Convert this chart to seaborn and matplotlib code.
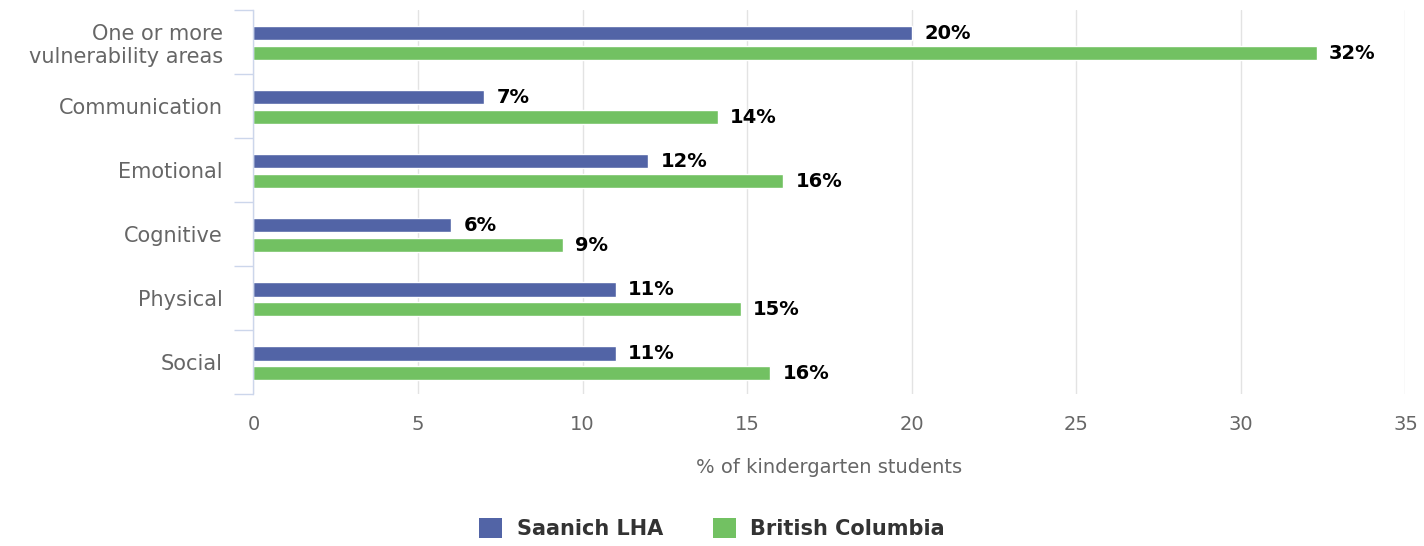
import matplotlib
matplotlib.use("Agg")
import matplotlib.pyplot as plt
import pandas as pd
import seaborn as sns
from matplotlib.patches import Patch

# --- data ---
categories = ["One or more\nvulnerability areas", "Communication", "Emotional",
              "Cognitive", "Physical", "Social"]
saanich = [20.0, 7.0, 12.0, 6.0, 11.0, 11.0]
bc = [32.3, 14.1, 16.1, 9.4, 14.8, 15.7]
series = ["Saanich LHA", "British Columbia"]
colors = ["#5264a6", "#72c162"]
x_ticks = [0, 5, 10, 15, 20, 25, 30, 35]

df = pd.DataFrame({
    "category": categories * 2,
    "value": saanich + bc,
    "region": [series[0]] * len(categories) + [series[1]] * len(categories),
})

sns.set_theme(style="white")
plt.rcParams["font.family"] = ["DejaVu Sans"]

fig, ax = plt.subplots(figsize=(14.24, 5.46), dpi=100)
fig.subplots_adjust(left=0.178, right=0.987, top=0.982, bottom=0.278)

sns.barplot(data=df, y="category", x="value", hue="region", order=categories,
            hue_order=series, palette=colors, orient="h", width=0.62,
            saturation=1, legend=False, ax=ax)

# thinner bars with a small gap between the pair
for p in ax.patches:
    cy = p.get_y() + p.get_height() / 2 + 0.02
    p.set_height(0.22)
    p.set_y(cy - 0.11)

for cont, vals in zip(ax.containers, [saanich, bc]):
    ax.bar_label(cont, labels=[f"{v:.0f}%" for v in vals], padding=9,
                 fontsize=14, fontweight="bold", color="black")

ax.set_xlim(0, 35)
ax.set_ylim(5.5, -0.5)
ax.set_xticks(x_ticks)
ax.set_axisbelow(True)
ax.grid(axis="x", color="#e3e3e3", linewidth=1)
ax.grid(axis="y", visible=False)

for s in ["top", "right", "bottom"]:
    ax.spines[s].set_visible(False)
ax.spines["left"].set_color("#ccd6eb")
ax.spines["left"].set_linewidth(1)

ax.set_yticks([i - 0.5 for i in range(len(categories) + 1)], minor=True)
ax.tick_params(axis="y", which="minor", length=14, width=1, color="#ccd6eb", left=True)
ax.tick_params(axis="y", which="major", length=0, pad=22, labelsize=15, labelcolor="#666666")
ax.tick_params(axis="x", length=0, pad=15, labelsize=14, labelcolor="#666666")

ax.set_ylabel("")
ax.set_xlabel("% of kindergarten students", fontsize=14, color="#666666", labelpad=17)

handles = [Patch(facecolor=c, edgecolor="none", label=s) for c, s in zip(colors, series)]
fig.legend(handles=handles, loc="lower center", bbox_to_anchor=(0.5, -0.022), ncol=2,
           frameon=False, handlelength=1.1, handleheight=1.1, handletextpad=0.7,
           columnspacing=2.4, prop={"size": 15, "weight": "bold"}, labelcolor="#333333")

fig.savefig("out.png", dpi=100)
